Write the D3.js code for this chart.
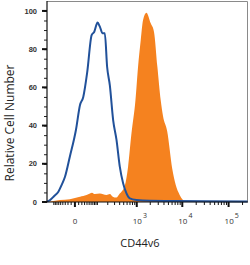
<!DOCTYPE html>
<html>
<head>
<meta charset="utf-8">
<script src="https://cdn.jsdelivr.net/npm/d3@7"></script>
<style>
  body { margin: 0; background: #fff; }
  svg { display: block; font-family: "Open Sans", sans-serif; }
</style>
</head>
<body>
<div id="chart"></div>
<script>
// isotype control (blue outline): [fluorescence, relative count]
const isotypeIntensity = [-146, -119, -89, -62, -45, -31, -14, 2.5, 14, 25, 41, 63, 78, 101, 119, 143, 166, 192, 227, 276, 335, 403, 484, 581, 693, 985, 1950, 7440, 255000];
const isotypeCount = [0.2, 1, 3, 5.4, 9, 13.2, 23.7, 37.7, 50.8, 55, 68, 87.4, 89, 93.9, 91.8, 88.3, 88.3, 70.8, 61, 42.9, 32.5, 18.5, 9.8, 4.5, 1.9, 1.0, 0.6, 0.5, 0.3];

// CD44v6 stained (orange fill)
const stainedIntensity = [-146, -54, -14, 14, 38, 54, 65, 82, 119, 185, 227, 270, 330, 403, 443, 530, 633, 758, 935, 1070, 1230, 1385, 1646, 2050, 2420, 2870, 3390, 3810, 4700, 6040, 7190, 8780, 10350, 11830];
const stainedCount = [0, 1, 1.5, 2.8, 3.6, 4.5, 4.9, 4.2, 4.5, 3.7, 4.2, 2.8, 2.3, 4.5, 5.4, 8.5, 18.5, 36, 53.4, 70.8, 84.8, 95.3, 99.1, 93.5, 89, 70.8, 53.4, 45, 37, 17.5, 9, 3.7, 1, 0];

const yTicks = [0, 20, 40, 60, 80, 100];
const xMajorTicks = [0, 1e3, 1e4, 1e5];
const xMajorLabels = ["0", "10|3", "10|4", "10|5"];
const xMinorTicks = [-90, -80, -70, -60, -50, -40, -30, -20, -10,
  10, 20, 30, 40, 50, 60, 70, 80, 90, 100, 200, 300, 400, 500, 600, 700, 800, 900,
  2e3, 3e3, 4e3, 5e3, 6e3, 7e3, 8e3, 9e3, 2e4, 3e4, 4e4, 5e4, 6e4, 7e4, 8e4, 9e4, 2e5];

const config = {
  width: 250,
  height: 265,
  margin: { top: 1, right: 2, bottom: 63, left: 47 },
};

const svg = d3.select("#chart").append("svg")
  .attr("width", config.width)
  .attr("height", config.height);

const innerW = config.width - config.margin.left - config.margin.right;
const innerH = config.height - config.margin.top - config.margin.bottom;

const x = d3.scaleSymlog().constant(48.7)
  .domain([-146, 262144])
  .range([config.margin.left, config.margin.left + innerW]);

const y = d3.scaleLinear()
  .domain([0, 105.2])
  .range([config.margin.top + innerH, config.margin.top]);

const isotype = isotypeIntensity.map((v, i) => ({ v, c: isotypeCount[i] }));
const stained = stainedIntensity.map((v, i) => ({ v, c: stainedCount[i] }));

// frame (top and right)
svg.append("path")
  .attr("d", `M${x.range()[0]},${y(105.2) + 0.5}H${x.range()[1] - 0.5}V${y(0)}`)
  .attr("fill", "none")
  .attr("stroke", "#8a8a8a")
  .attr("stroke-width", 1);

const area = d3.area()
  .x(d => x(d.v))
  .y0(y(0))
  .y1(d => y(d.c))
  .curve(d3.curveMonotoneX);

svg.append("path")
  .datum(stained)
  .attr("d", area)
  .attr("fill", "#f5821f");

const line = d3.line()
  .x(d => x(d.v))
  .y(d => y(d.c))
  .curve(d3.curveMonotoneX);

svg.append("path")
  .datum(isotype)
  .attr("d", line)
  .attr("fill", "none")
  .attr("stroke", "#21519a")
  .attr("stroke-width", 2)
  .attr("stroke-linejoin", "round");

// y axis
const yAxis = svg.append("g").attr("transform", `translate(${config.margin.left},0)`);
yAxis.call(d3.axisLeft(y).tickValues(d3.range(0, 101, 5)).tickSize(3).tickFormat(""))
  .call(g => g.select(".domain").remove())
  .call(g => g.selectAll("line").attr("stroke", "#222"));
yAxis.selectAll(".major")
  .data(yTicks)
  .join("line")
  .attr("class", "major")
  .attr("x1", -5).attr("x2", 0)
  .attr("y1", d => y(d)).attr("y2", d => y(d))
  .attr("stroke", "#111")
  .attr("stroke-width", 2);
yAxis.selectAll(".lbl")
  .data(yTicks)
  .join("text")
  .attr("class", "lbl")
  .attr("x", -10)
  .attr("y", d => y(d))
  .attr("dy", "0.35em")
  .attr("text-anchor", "end")
  .attr("font-size", 7.5)
  .attr("font-weight", 700)
  .attr("fill", "#333")
  .text(d => d);
yAxis.append("line")
  .attr("x1", 0).attr("x2", 0)
  .attr("y1", y(105.2)).attr("y2", y(0))
  .attr("stroke", "#111")
  .attr("stroke-width", 1.2);

// x axis
const xAxis = svg.append("g").attr("transform", `translate(0,${y(0)})`);
xAxis.selectAll(".minor")
  .data(xMinorTicks)
  .join("line")
  .attr("class", "minor")
  .attr("x1", d => x(d)).attr("x2", d => x(d))
  .attr("y1", 0).attr("y2", 3)
  .attr("stroke", "#111")
  .attr("stroke-width", 1);
xAxis.selectAll(".major")
  .data(xMajorTicks)
  .join("line")
  .attr("class", "major")
  .attr("x1", d => x(d)).attr("x2", d => x(d))
  .attr("y1", 0).attr("y2", 5)
  .attr("stroke", "#111")
  .attr("stroke-width", 2);
xAxis.append("line")
  .attr("x1", x.range()[0]).attr("x2", x.range()[1])
  .attr("stroke", "#111")
  .attr("stroke-width", 1.2);

xAxis.selectAll(".lbl")
  .data(xMajorTicks)
  .join("text")
  .attr("class", "lbl")
  .attr("y", 22)
  .attr("font-size", 8)
  .attr("fill", "#333")
  .each(function (d, i) {
    const [base, exp] = xMajorLabels[i].split("|");
    const t = d3.select(this);
    t.append("tspan").text(base);
    if (exp) {
      t.attr("x", x(d) - 4).attr("text-anchor", "start");
      t.append("tspan").attr("dy", -6).attr("dx", 1).attr("font-size", 7).text(exp);
    } else {
      t.attr("x", x(d)).attr("text-anchor", "middle");
    }
  });

// titles
svg.append("text")
  .attr("x", 140)
  .attr("y", 247)
  .attr("text-anchor", "middle")
  .attr("font-size", 11)
  .attr("fill", "#222")
  .text("CD44v6");

svg.append("text")
  .attr("transform", "translate(14,123) rotate(-90)")
  .attr("text-anchor", "middle")
  .attr("font-size", 12)
  .attr("fill", "#222")
  .text("Relative Cell Number");
</script>
</body>
</html>
